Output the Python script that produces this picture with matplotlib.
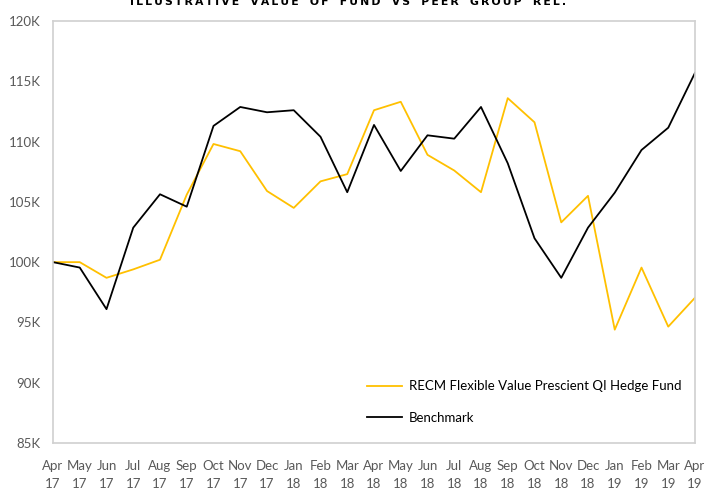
import matplotlib
matplotlib.use("Agg")
import matplotlib.pyplot as plt
from matplotlib.ticker import FuncFormatter

plt.rcParams['font.family'] = ['Lato', 'DejaVu Sans']

# monthly points, Apr 2017 .. Apr 2019
months = ["Apr", "May", "Jun", "Jul", "Aug", "Sep", "Oct", "Nov", "Dec", "Jan", "Feb", "Mar",
          "Apr", "May", "Jun", "Jul", "Aug", "Sep", "Oct", "Nov", "Dec", "Jan", "Feb", "Mar", "Apr"]
years = ["17"] * 9 + ["18"] * 12 + ["19"] * 4

fund = [100.0, 100.0, 98.7, 99.4, 100.2, 105.6, 109.8, 109.2, 105.9, 104.5, 106.7, 107.3,
        112.6, 113.3, 108.9, 107.6, 105.8, 113.6, 111.6, 103.3, 105.5, 94.4, 99.55, 94.65, 97.05]
bench = [100.0, 99.55, 96.1, 102.86, 105.63, 104.6, 111.3, 112.87, 112.43, 112.6, 110.4, 105.8,
         111.38, 107.56, 110.52, 110.24, 112.87, 108.2, 101.98, 98.7, 102.86, 105.76, 109.3, 111.15, 115.7]

fund_label = "RECM Flexible Value Prescient QI Hedge Fund"
bench_label = "Benchmark"
title = "ILLUSTRATIVE VALUE OF FUND VS PEER GROUP REL."

x = list(range(len(months)))
xlabels = [m + "\n" + y for m, y in zip(months, years)]

fig = plt.figure(figsize=(7.05, 4.9), dpi=100)
ax = fig.add_axes([53 / 705, 1 - 443 / 490, 642 / 705, 422 / 490])

ax.plot(x, fund, color="#FFC000", lw=1.3, label=fund_label)
ax.plot(x, bench, color="black", lw=1.3, label=bench_label)

ax.set_xlim(0, len(x) - 1)
ax.set_ylim(85, 120)
ax.set_yticks(range(85, 121, 5))
ax.yaxis.set_major_formatter(FuncFormatter(lambda v, p: f"{int(v)}K"))
ax.set_xticks(x)
ax.set_xticklabels(xlabels, linespacing=1.6)
ax.tick_params(length=0, colors="#595959", labelsize=9.5)
ax.tick_params(axis="x", pad=12)
ax.tick_params(axis="y", pad=9)
for s in ax.spines.values():
    s.set_color("#D0D0D0")
    s.set_linewidth(1.2)

ax.legend(loc="lower left", bbox_to_anchor=(0.47, 0.018), frameon=False, fontsize=9.5,
          handlelength=2.7, labelspacing=1.45, handletextpad=0.5)

# title sits mostly above the canvas, as in the source image
spaced = "\u2009".join(title).replace("\u2009 \u2009", "   ")
fig.text(0.493, 1 - 5 / 490, spaced, ha="center", va="baseline",
         fontsize=7.8, fontweight="bold", family="DejaVu Sans")

fig.savefig("out.png", dpi=100)
